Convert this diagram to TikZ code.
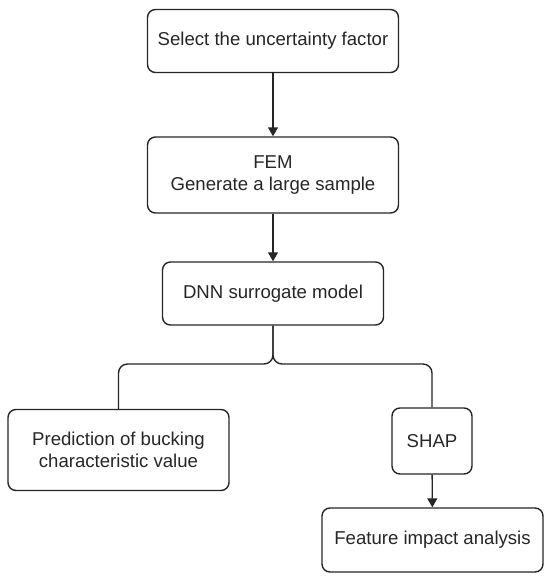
\documentclass[tikz,border=0pt]{standalone}
\usepackage{fontspec}
\setmainfont{Liberation Sans}
\usetikzlibrary{arrows.meta}
\begin{document}
\begin{tikzpicture}[x=1pt,y=-1pt,
  box/.style={draw=black!85, line width=1.4pt, rounded corners=8pt, align=center,
    font=\fontsize{18.6}{22}\selectfont, text=black!85, inner sep=0pt},
  arr/.style={draw=black!85, line width=1.4pt, -{Triangle[width=10pt,length=9pt]}},
  link/.style={draw=black!85, line width=1.4pt, rounded corners=9pt}]
\useasboundingbox (0,0) rectangle (550,578);
\node[box, minimum width=251pt, minimum height=63pt] (sel) at (273,41) {Select the uncertainty factor};
\node[box, minimum width=251pt, minimum height=76pt] (fem) at (273,175) {FEM\\Generate a large sample};
\node[box, minimum width=221pt, minimum height=63pt] (dnn) at (273,293.5) {DNN surrogate model};
\node[box, minimum width=221pt, minimum height=81pt] (pred) at (118.5,450) {Prediction of bucking\\characteristic value};
\node[box, minimum width=80pt, minimum height=66pt] (shap) at (432,441) {SHAP};
\node[box, minimum width=221pt, minimum height=64pt] (feat) at (432.5,540) {Feature impact analysis};
\coordinate (mid) at (273,364);
\draw[arr] (sel) -- (fem);
\draw[arr] (fem) -- (dnn);
\draw[link] (dnn.south) -- (mid) -- (pred.north |- mid) -- (pred.north);
\draw[link] (dnn.south) -- (mid) -- (shap.north |- mid) -- (shap.north);
\draw[arr] (shap) -- (feat);
\end{tikzpicture}
\end{document}
